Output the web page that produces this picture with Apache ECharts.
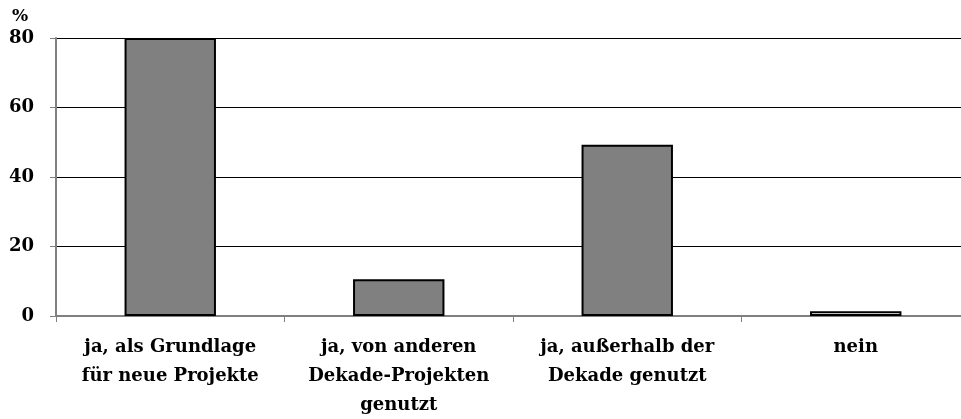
<!DOCTYPE html>
<html>
<head>
<meta charset="utf-8">
<script src="https://cdn.jsdelivr.net/npm/echarts@6/dist/echarts.min.js"></script>
<style>
  html, body { margin: 0; padding: 0; background: #fff; overflow: hidden; }
  #main { width: 961px; height: 419px; }
</style>
</head>
<body>
<div id="main"></div>
<script>
// Daten aus der Vorlage
var categories = [
    'ja, als Grundlage\nfür neue Projekte',
    'ja, von anderen\nDekade-Projekten\ngenutzt',
    'ja, außerhalb der\nDekade genutzt',
    'nein'
];
var values = [80, 10.6, 49.3, 1.4];
var fills = ['#808080', '#808080', '#808080', '#ffffff'];
var yTicks = [0, 20, 40, 60, 80];

var font = '"DejaVu Serif", "Liberation Serif", serif';
var chart = echarts.init(document.getElementById('main'));

chart.setOption({
    animation: false,
    backgroundColor: '#fff',
    grid: {left: 56, width: 914, top: 38, bottom: 103, outerBoundsMode: 'none', containLabel: false},
    graphic: [{
        type: 'text', left: 12, top: 8,
        style: {text: '%', font: 'bold 17px ' + font, fill: '#000'}
    }],
    xAxis: {
        type: 'category',
        data: categories,
        axisLine: {show: true, lineStyle: {color: '#808080', width: 2}},
        axisTick: {show: true, length: 6, lineStyle: {color: '#808080', width: 1}},
        axisLabel: {
            color: '#000', fontFamily: font, fontWeight: 'bold', fontSize: 18,
            lineHeight: 29, margin: 17, interval: 0
        }
    },
    yAxis: {
        type: 'value',
        min: yTicks[0], max: yTicks[yTicks.length - 1], interval: 20,
        axisLine: {show: true, lineStyle: {color: '#808080', width: 2}},
        axisTick: {show: true, length: 6, lineStyle: {color: '#808080'}},
        splitLine: {show: true, lineStyle: {color: '#000', width: 1}},
        axisLabel: {
            color: '#000', fontFamily: font, fontWeight: 'bold', fontSize: 18, margin: 22
        }
    },
    series: [{
        type: 'bar',
        barWidth: '40%',
        data: values.map(function (v, i) {
            return {value: v, itemStyle: {color: fills[i]}};
        }),
        itemStyle: {borderColor: '#000', borderWidth: 2}
    }]
});
</script>
</body>
</html>
